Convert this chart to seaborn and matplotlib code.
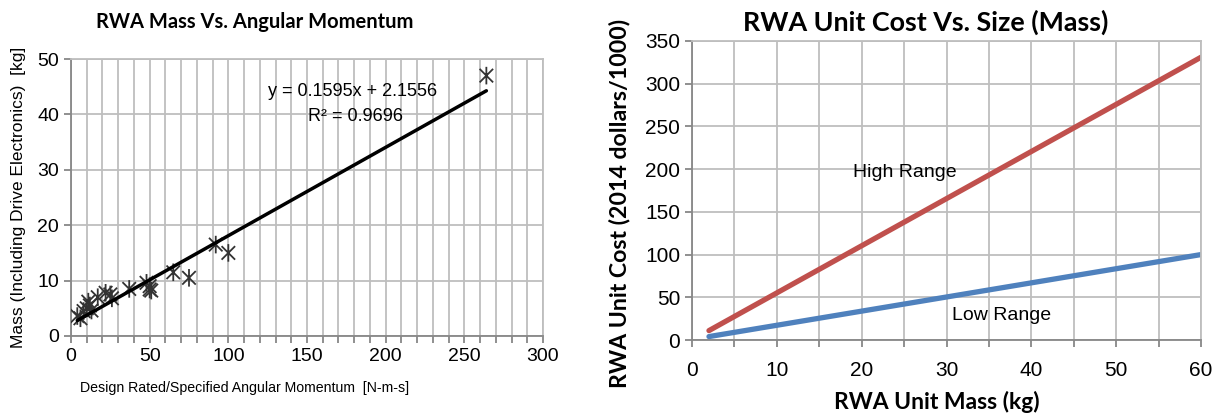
import numpy as np
import pandas as pd
import seaborn as sns
import matplotlib.pyplot as plt
from matplotlib.path import Path
from matplotlib.ticker import MultipleLocator

# left chart: RWA mass vs angular momentum
momentum = [4, 6, 8, 10, 11, 12, 13, 17, 22, 25, 26, 37, 48, 50, 50, 51, 65, 75, 92, 100, 264]
mass = [3.6, 3.2, 4.5, 5.0, 6.2, 5.5, 4.6, 7.0, 7.8, 7.5, 6.8, 8.5, 9.6, 8.4, 9.0, 8.2, 11.5, 10.5, 16.5, 15.0, 47.0]
fit_slope = 0.1595
fit_intercept = 2.1556
fit_label = "y = 0.1595x + 2.1556"
r2_label = "R² = 0.9696"

# right chart: unit cost vs mass
unit_mass = [2, 60]
high_cost = [11, 331]
low_cost = [4, 100]

sns.set_theme(style="white")
plt.rcParams["text.color"] = "black"
plt.rcParams["axes.labelcolor"] = "black"
plt.rcParams["xtick.color"] = "black"
plt.rcParams["ytick.color"] = "black"
narrow = ['Liberation Sans', 'DejaVu Sans']
boldfam = ['Lato', 'DejaVu Sans']
grid_c = "#BEBEBE"
spine_c = "#878787"

fig = plt.figure(figsize=(12.2, 4.13), dpi=100)
ax1 = fig.add_axes([71 / 1220, 1 - 336 / 413, 472 / 1220, 277 / 413])
ax2 = fig.add_axes([692 / 1220, 1 - 340 / 413, 509 / 1220, 299 / 413])


def style_axes(ax, xmaj, xmin, ymaj):
    ax.xaxis.set_major_locator(MultipleLocator(xmaj))
    ax.xaxis.set_minor_locator(MultipleLocator(xmin))
    ax.yaxis.set_major_locator(MultipleLocator(ymaj))
    ax.grid(True, which="both", axis="x", color=grid_c, linewidth=1.3)
    ax.grid(True, which="major", axis="y", color=grid_c, linewidth=1.3)
    ax.set_axisbelow(True)
    for side in ["left", "bottom"]:
        ax.spines[side].set_color(spine_c)
        ax.spines[side].set_linewidth(1.3)
    for side in ["top", "right"]:
        ax.spines[side].set_color(grid_c)
        ax.spines[side].set_linewidth(1.3)
    ax.tick_params(axis="both", which="both", direction="out", length=5, width=1.3,
                   color=spine_c, labelcolor="black", bottom=True, left=True)
    ax.tick_params(axis="y", which="minor", left=False)


# ---- left: scatter + linear fit
star = Path([(-1, -1), (1, 1), (-1, 1), (1, -1), (0, -1.3), (0, 1.3)],
            [Path.MOVETO, Path.LINETO, Path.MOVETO, Path.LINETO, Path.MOVETO, Path.LINETO])
df = pd.DataFrame({"h": momentum, "m": mass})
sns.scatterplot(data=df, x="h", y="m", marker=star, s=160, facecolor="none",
                edgecolor="#333333", linewidth=1.3, ax=ax1, zorder=3)
fit_x = np.array([min(momentum), max(momentum)])
sns.lineplot(x=fit_x, y=fit_slope * fit_x + fit_intercept, color="black", linewidth=2.5, ax=ax1, zorder=4)
ax1.set_xlim(0, 300)
ax1.set_ylim(0, 50)
style_axes(ax1, 50, 10, 10)
ax1.text(179, 44.2, fit_label, ha="center", va="center", fontsize=13, family=narrow)
ax1.text(181, 39.6, r2_label, ha="center", va="center", fontsize=13, family=narrow)
fig.text(255 / 1220, 1 - 22 / 413, "RWA Mass Vs. Angular Momentum", ha="center", va="center",
         fontsize=14.5, fontweight="bold", family=boldfam)
ax1.set_xlabel("Design Rated/Specified Angular Momentum  [N-m-s]", fontsize=10.2, family=narrow)
ax1.xaxis.set_label_coords(0.367, -0.162)
ax1.set_ylabel("Mass (Including Drive Electronics)  [kg]", fontsize=12.5, family=narrow, labelpad=8)
for lab in ax1.get_xticklabels() + ax1.get_yticklabels():
    lab.set_family(narrow)
    lab.set_fontsize(14)

# ---- right: cost ranges
sns.lineplot(x=unit_mass, y=high_cost, color="#C0504D", linewidth=3.8, ax=ax2, solid_capstyle="round")
sns.lineplot(x=unit_mass, y=low_cost, color="#4F81BD", linewidth=3.8, ax=ax2, solid_capstyle="round")
ax2.set_xlim(0, 60)
ax2.set_ylim(0, 350)
style_axes(ax2, 10, 5, 50)
ax2.tick_params(axis="x", which="major", pad=10)
ax2.text(19, 196, "High Range", ha="left", va="center", fontsize=14, family=narrow)
ax2.text(30.7, 29, "Low Range", ha="left", va="center", fontsize=14, family=narrow)
fig.text(926 / 1220, 1 - 22 / 413, "RWA Unit Cost Vs. Size (Mass)", ha="center", va="center",
         fontsize=19.4, fontweight="bold", family=boldfam)
ax2.set_xlabel("RWA Unit Mass (kg)", fontsize=16.5, fontweight="bold", family=boldfam)
ax2.xaxis.set_label_coords(0.48, -0.17)
ax2.set_ylabel("RWA Unit Cost (2014 dollars/1000)", fontsize=16.7, fontweight="bold", family=boldfam)
ax2.yaxis.set_label_coords(-0.122, 0.458)
for lab in ax2.get_xticklabels() + ax2.get_yticklabels():
    lab.set_family(narrow)
    lab.set_fontsize(15)

fig.savefig("out.png", dpi=100)
